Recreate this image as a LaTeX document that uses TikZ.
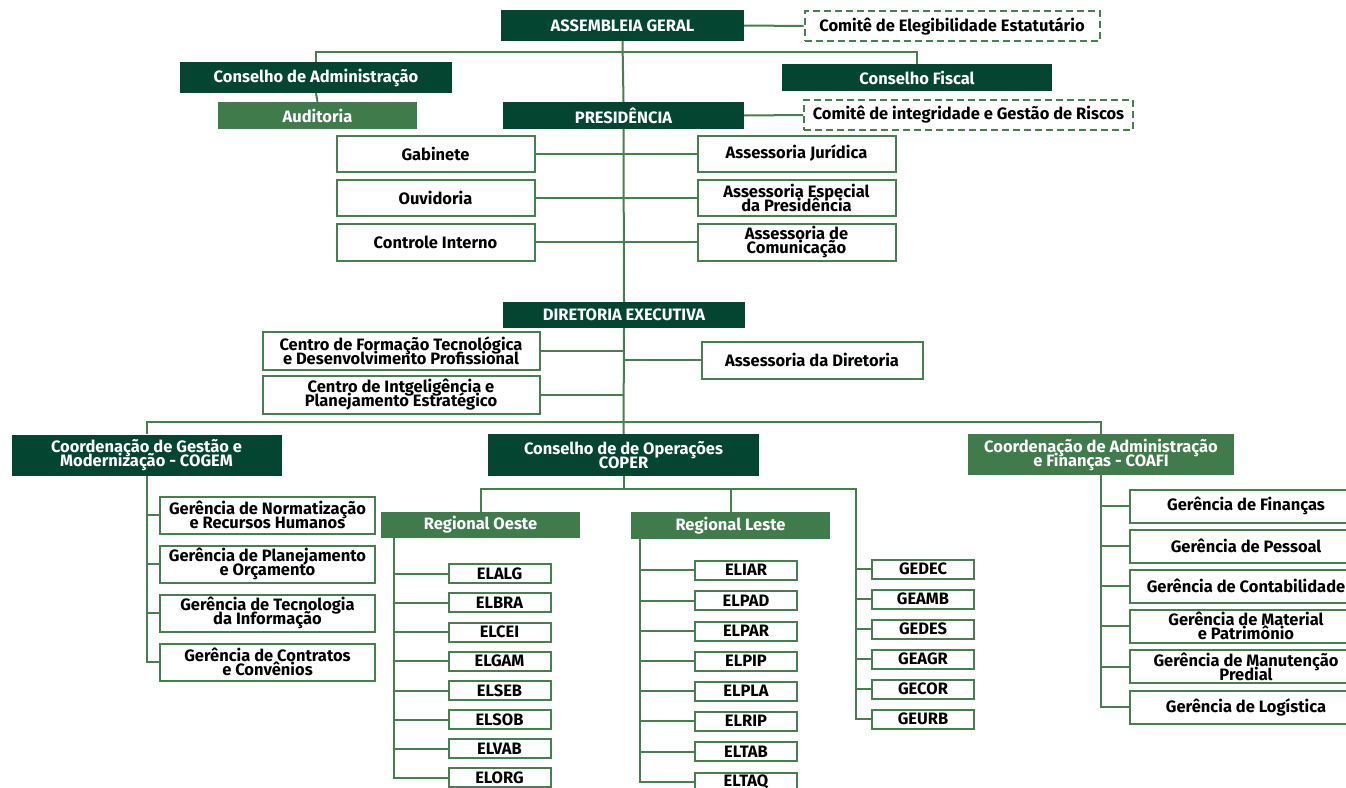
\documentclass[tikz,border=0pt]{standalone}
\usepackage{fontspec}
\setmainfont{Fira Sans}
\definecolor{dkgreen}{RGB}{4,69,49}
\definecolor{mdgreen}{RGB}{63,123,75}
\definecolor{lngreen}{RGB}{72,126,82}
\newcommand\boxfont{\bfseries\fontsize{16.5}{14}\selectfont\setlength{\lineskiplimit}{-20pt}}
\begin{document}
\begin{tikzpicture}[x=1pt,y=1pt]
\tikzstyle{every node}+=[inner sep=0pt, align=center, font=\boxfont]
\tikzstyle{dkbox}=[fill=dkgreen, text=white]
\tikzstyle{mdbox}=[fill=mdgreen, text=white]
\tikzstyle{wbox}=[draw=lngreen, line width=2pt, fill=white]
\tikzstyle{dshbox}=[draw=lngreen, line width=2pt, dash pattern=on 7pt off 4pt, fill=white]
\tikzstyle{elbox}=[wbox, minimum width=102, minimum height=19]
\tikzstyle{gerbox}=[wbox, minimum width=215, minimum height=37]
\tikzstyle{finbox}=[wbox, minimum width=232, minimum height=33]
\tikzstyle{link}=[lngreen, line width=2pt]
\clip (0,0) rectangle (1346,-787);
\fill [white] (0,0) rectangle (1346,-787);
\node [dkbox, minimum width=243, minimum height=31] (ag) at (622.5,-25.5) {ASSEMBLEIA GERAL};
\node [dshbox, minimum width=295, minimum height=30] (cee) at (952,-26) {Comitê de Elegibilidade Estatutário};
\node [dkbox, minimum width=272, minimum height=31] (adm) at (316,-77.5) {Conselho de Administração};
\node [dkbox, minimum width=270, minimum height=27] (fis) at (917,-77.5) {Conselho Fiscal};
\node [mdbox, minimum width=199, minimum height=27] (aud) at (317.5,-115.5) {Auditoria};
\node [dkbox, minimum width=241, minimum height=27] (pres) at (623.5,-115.5) {PRESIDÊNCIA};
\node [dshbox, minimum width=329, minimum height=30] (cig) at (968.5,-115) {Comitê de integridade e Gestão de Riscos};
\node [wbox, minimum width=198, minimum height=36] (gab) at (435.5,-153.5) {Gabinete};
\node [wbox, minimum width=198, minimum height=36] (ouv) at (435.5,-197.5) {Ouvidoria};
\node [wbox, minimum width=198, minimum height=37] (ctl) at (435.5,-242) {Controle Interno};
\node [wbox, minimum width=198, minimum height=36] (jur) at (796.5,-153.5) {Assessoria Jurídica};
\node [wbox, minimum width=198, minimum height=36] (esp) at (796.5,-197.5) {Assessoria Especial\\da Presidência};
\node [wbox, minimum width=198, minimum height=37] (com) at (796.5,-242) {Assessoria de\\Comunicação};
\node [dkbox, minimum width=242, minimum height=26] (dir) at (624,-315) {DIRETORIA EXECUTIVA};
\node [wbox, minimum width=277, minimum height=38] (cft) at (401,-351) {Centro de Formação Tecnológica\\e Desenvolvimento Profissional};
\node [wbox, minimum width=277, minimum height=38] (cip) at (401,-395) {Centro de Intgeligência e\\Planejamento Estratégico};
\node [wbox, minimum width=221, minimum height=37] (adr) at (812,-360) {Assessoria da Diretoria};
\node [dkbox, minimum width=270, minimum height=41] (cogem) at (146.5,-455) {Coordenação de Gestão e\\Modernização - COGEM};
\node [dkbox, minimum width=271, minimum height=42] (coper) at (623.5,-455) {Conselho de de Operações\\COPER};
\node [mdbox, minimum width=266, minimum height=41] (coafi) at (1101,-454.5) {Coordenação de Administração\\e Finanças - COAFI};
\node [gerbox] (gnr) at (267.5,-515) {Gerência de Normatização\\e Recursos Humanos};
\node [gerbox] (gpo) at (267.5,-564) {Gerência de Planejamento\\e Orçamento};
\node [gerbox] (gti) at (267.5,-613) {Gerência de Tecnologia\\da Informação};
\node [gerbox] (gcc) at (267.5,-662) {Gerência de Contratos\\e Convênios};
\node [mdbox, minimum width=199, minimum height=26] (ro) at (480.5,-525) {Regional Oeste};
\node [mdbox, minimum width=199, minimum height=27] (rl) at (730.5,-525.5) {Regional Leste};
\node [elbox] (elalg) at (499.5,-573.5) {ELALG};
\node [elbox] (elbra) at (499.5,-602.5) {ELBRA};
\node [elbox] (elcei) at (499.5,-632) {ELCEI};
\node [elbox] (elgam) at (499.5,-661) {ELGAM};
\node [elbox] (elseb) at (499.5,-690.5) {ELSEB};
\node [elbox] (elsob) at (499.5,-719.5) {ELSOB};
\node [elbox] (elvab) at (499.5,-748.5) {ELVAB};
\node [elbox] (elorg) at (499.5,-777.5) {ELORG};
\node [elbox] (eliar) at (746,-570) {ELIAR};
\node [elbox] (elpad) at (746,-600.5) {ELPAD};
\node [elbox] (elpar) at (746,-631) {ELPAR};
\node [elbox] (elpip) at (746,-661) {ELPIP};
\node [elbox] (elpla) at (746,-691) {ELPLA};
\node [elbox] (elrip) at (746,-721) {ELRIP};
\node [elbox] (eltab) at (746,-751.5) {ELTAB};
\node [elbox] (eltaq) at (746,-782) {ELTAQ};
\node [elbox] (gedec) at (923,-569) {GEDEC};
\node [elbox] (geamb) at (923,-599) {GEAMB};
\node [elbox] (gedes) at (923,-629) {GEDES};
\node [elbox] (geagr) at (923,-659) {GEAGR};
\node [elbox] (gecor) at (923,-689) {GECOR};
\node [elbox] (geurb) at (923,-719) {GEURB};
\node [finbox] (gfin) at (1246,-506) {Gerência de Finanças};
\node [finbox] (gpes) at (1246,-546) {Gerência de Pessoal};
\node [finbox] (gcon) at (1246,-586) {Gerência de Contabilidade};
\node [finbox] (gmat) at (1246,-626) {Gerência de Material\\e Patrimônio};
\node [finbox] (gman) at (1246,-666.5) {Gerência de Manutenção\\Predial};
\node [finbox] (glog) at (1246,-707) {Gerência de Logística};
\coordinate (b1) at (622.5,-52);
\coordinate (b2) at (622.5,-422);
\coordinate (b3) at (856,-489);
\coordinate (ro1) at (394,-538);
\coordinate (rl1) at (640,-539);
\draw [link] (ag.south) -- (pres.north);
\draw [link] (pres.south) -- (dir.north);
\draw [link] (dir.south) -- (coper.north);
\draw [link] (ag.east) -- (cee.west);
\draw [link] (pres.east) -- (cig.west);
\draw [link] (adm.north) |- (b1) -| (fis.north);
\draw [link] (adm.south) -- (aud.north);
\draw [link] (gab.east) -- (jur.west);
\draw [link] (ouv.east) -- (esp.west);
\draw [link] (ctl.east) -- (com.west);
\draw [link] (cft.east) -- (cft.east -| dir.south);
\draw [link] (cip.east) -- (cip.east -| dir.south);
\draw [link] (adr.west) -- (adr.west -| dir.south);
\draw [link] (cogem.north) |- (b2) -| (coafi.north);
\draw [link] (cogem.south) |- (gcc.west);
\draw [link] (gnr.west) -- (gnr.west -| cogem.south) (gpo.west) -- (gpo.west -| cogem.south) (gti.west) -- (gti.west -| cogem.south);
\draw [link] (coper.south) -- (coper.south |- b3);
\draw [link] (ro.north) |- (b3) |- (geurb.west);
\draw [link] (rl.north) -- (rl.north |- b3);
\draw [link] (gedec.west) -- (gedec.west -| b3) (geamb.west) -- (geamb.west -| b3) (gedes.west) -- (gedes.west -| b3) (geagr.west) -- (geagr.west -| b3) (gecor.west) -- (gecor.west -| b3);
\draw [link] (ro1) |- (elorg.west);
\draw [link] (elalg.west) -- (elalg.west -| ro1) (elbra.west) -- (elbra.west -| ro1) (elcei.west) -- (elcei.west -| ro1) (elgam.west) -- (elgam.west -| ro1) (elseb.west) -- (elseb.west -| ro1) (elsob.west) -- (elsob.west -| ro1) (elvab.west) -- (elvab.west -| ro1);
\draw [link] (rl1) |- (eltaq.west);
\draw [link] (eliar.west) -- (eliar.west -| rl1) (elpad.west) -- (elpad.west -| rl1) (elpar.west) -- (elpar.west -| rl1) (elpip.west) -- (elpip.west -| rl1) (elpla.west) -- (elpla.west -| rl1) (elrip.west) -- (elrip.west -| rl1) (eltab.west) -- (eltab.west -| rl1);
\draw [link] (coafi.south) |- (glog.west);
\draw [link] (gfin.west) -- (gfin.west -| coafi.south) (gpes.west) -- (gpes.west -| coafi.south) (gcon.west) -- (gcon.west -| coafi.south) (gmat.west) -- (gmat.west -| coafi.south) (gman.west) -- (gman.west -| coafi.south);
\end{tikzpicture}
\end{document}
